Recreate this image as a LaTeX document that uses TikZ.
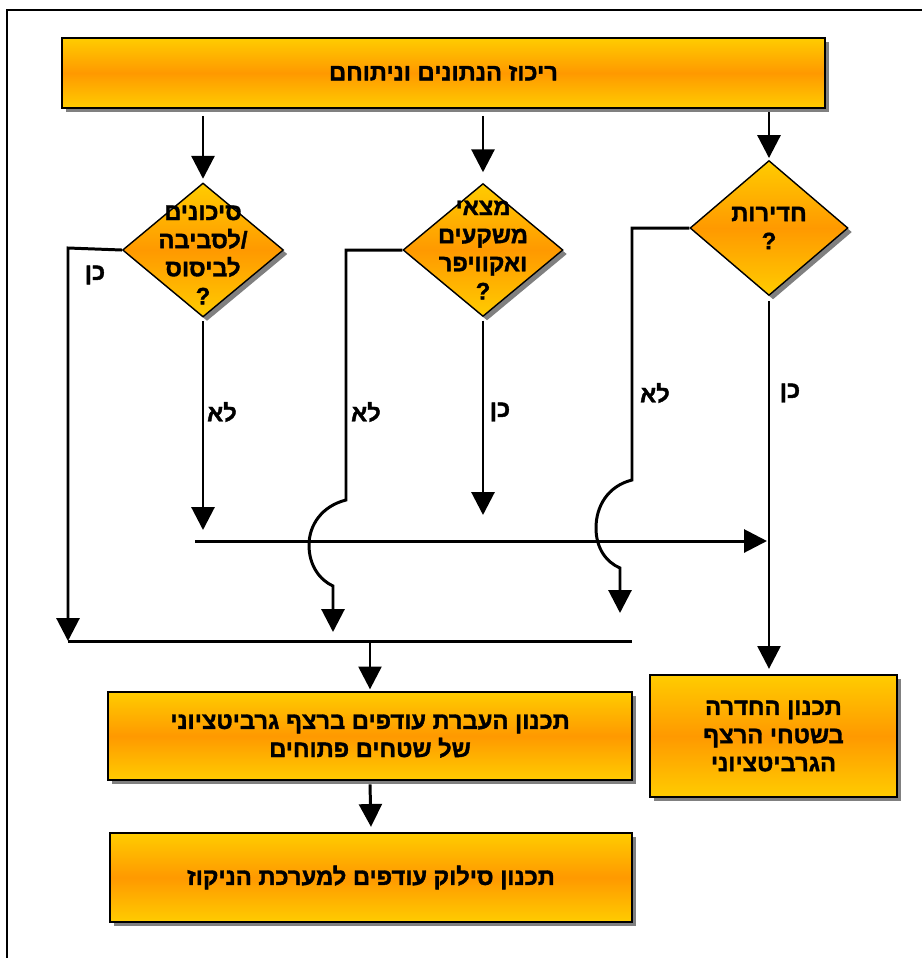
\documentclass[tikz,border=0pt]{standalone}
\usepackage{fontspec}
\setmainfont{Liberation Sans}
\newfontfamily\heb[Script=Hebrew,FakeBold=1.5]{Liberation Sans Bold}
\TeXXeTstate=1
\usepackage{tikz}
\usetikzlibrary{shapes.geometric,shadows,arrows.meta}
\definecolor{boxyellow}{RGB}{255,204,0}
\definecolor{boxorange}{RGB}{255,153,0}

\begin{document}
\begin{tikzpicture}[x=0.02cm,y=-0.02cm,>={Triangle[width=13pt,length=13pt]},line width=1.7pt,
  proc/.style={rectangle,draw=black,line width=1pt,inner sep=0pt,
    top color=boxyellow,bottom color=boxyellow,middle color=boxorange,
    drop shadow={shadow xshift=2.3pt,shadow yshift=-2.3pt,opacity=1,fill=gray}},
  dec/.style={diamond,draw=black,line width=0.8pt,inner sep=0pt,
    top color=boxyellow,bottom color=boxyellow,middle color=boxorange,
    drop shadow={shadow xshift=2.3pt,shadow yshift=-2.3pt,opacity=1,fill=gray}},
  txt/.style={font=\fontsize{13.5}{16}\selectfont\heb\bfseries,align=center,inner sep=0pt},
  lbl/.style={font=\fontsize{13.5}{16}\selectfont\heb\bfseries,inner sep=0pt}]

	\useasboundingbox (0,0) rectangle (921,958);
	\draw[line width=1pt] (7,975) -- (7,10) -- (935,10);

	% boxes
	\node[proc,minimum width=15.26cm,minimum height=1.4cm] (top) at (443.5,73) {};
	\node[txt] (topt) at (top) {\beginR ריכוז הנתונים וניתוחם\endR};
	\node[proc,minimum width=10.48cm,minimum height=1.76cm] (b1) at (370,736) {};
	\node[txt] (b1t) at (b1) {\beginR תכנון העברת עודפים ברצף גרביטציוני\endR\\ \beginR של שטחים פתוחים\endR};
	\node[proc,minimum width=10.44cm,minimum height=1.78cm] (b2) at (371,877.5) {};
	\node[txt] (b2t) at (b2) {\beginR תכנון סילוק עודפים למערכת הניקוז\endR};
	\node[proc,minimum width=4.94cm,minimum height=2.44cm] (b3) at (773.5,736) {};
	\node[txt] (b3t) at (b3) {\beginR תכנון החדרה\endR\\ \beginR בשטחי הרצף\endR\\ \beginR הגרביטציוני\endR};

	% decisions
	\node[dec,minimum width=3.22cm,minimum height=2.68cm] (d1) at (203,250) {};
	\node[txt] (d1t) at (203,255) {\beginR סיכונים\endR\\ \beginR לסביבה\endR/\\ \beginR לביסוס\endR\\ ?};
	\node[dec,minimum width=3.2cm,minimum height=2.66cm] (d2) at (483,250) {};
	\node[txt] (d2t) at (483,250) {\beginR מצאי\endR\\ \beginR משקעים\endR\\ \beginR ואקוויפר\endR\\ ?};
	\node[dec,minimum width=3.16cm,minimum height=2.7cm] (d3) at (769,228) {};
	\node[txt] (d3t) at (d3) {\beginR חדירות\endR\\ ?};

	% free ends
	\coordinate (y1) at (68,248);
	\coordinate (n1) at (203,530);
	\coordinate (h2) at (346,500);
	\coordinate (n2) at (333,632);
	\coordinate (n4) at (483,515);
	\coordinate (h3) at (632,480);
	\coordinate (n3) at (620,613);
	\coordinate (m1) at (195,541);
	\coordinate (m2) at (767,541);
	\coordinate (j1) at (68,641);
	\coordinate (j2) at (632,641);
	\coordinate (j3) at (370,641);

	\draw[->] ([yshift=-4pt]top.south -| d1) -- ([yshift=2pt]d1.north);
	\draw[->] ([yshift=-4pt]top.south -| d2) -- ([yshift=6pt]d2.north);
	\draw[->] ([yshift=-2pt]top.south -| d3) -- ([yshift=1pt]d3.north);

	\draw[->] (d1.west) -- (y1) -- (y1 |- j1);
	\draw[->] ([yshift=-2pt]d1.south) -- (n1);
	\draw[->] (d2.west) -| (h2) .. controls (322,506) and (309,525) .. (309,545) .. controls (309,566) and (320,580) .. (333,586) -- (n2);
	\draw[->] ([yshift=-2pt]d2.south) -- (n4);
	\draw[->] (d3.west) -| (h3) .. controls (608,486) and (596,506) .. (596,528) .. controls (596,548) and (606,562) .. (620,568) -- (n3);
	\draw[->] ([yshift=-3pt]d3.south) -- ([yshift=3pt]d3.south |- b3.north);

	\draw[->] (m1) -- (m2);
	\draw (j1) -- (j2);
	\draw[->] (j3) -- ([yshift=1pt]b1.north);
	\draw[->] ([yshift=-2pt]b1.south) -- ([yshift=3pt]b2.north);

	% labels
	\node[lbl] (l1) at (95,275) {\beginR כן\endR};
	\node[lbl] (l2) at (222,412) {\beginR לא\endR};
	\node[lbl] (l3) at (366,412) {\beginR לא\endR};
	\node[lbl] (l4) at (500,412) {\beginR כן\endR};
	\node[lbl] (l5) at (655,393) {\beginR לא\endR};
	\node[lbl] (l6) at (790,393) {\beginR כן\endR};

\end{tikzpicture}
\end{document}
